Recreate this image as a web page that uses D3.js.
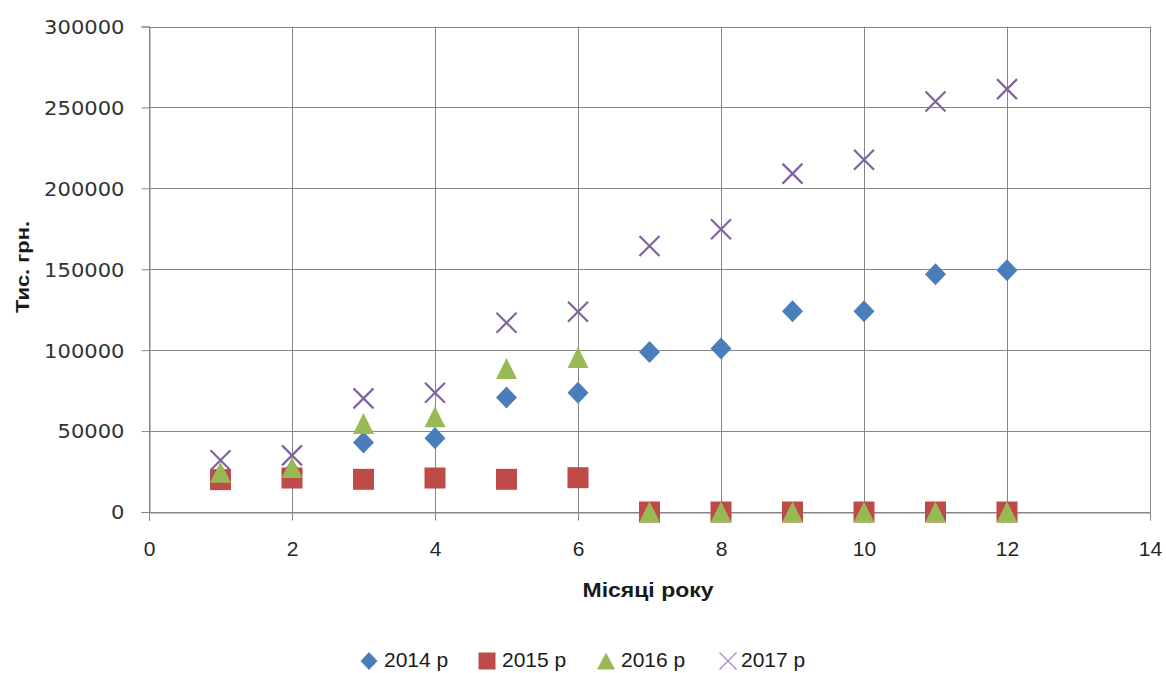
<!DOCTYPE html>
<html><head><meta charset="utf-8">
<script src="https://cdn.jsdelivr.net/npm/d3@7"></script>
<style>html,body{margin:0;padding:0;background:#fff;}svg{display:block;}</style>
</head><body>
<svg id="chart" width="1166" height="673"></svg>
<script>
const months = [1,2,3,4,5,6,7,8,9,10,11,12];
const v2014 = [22000,24500,43000,45500,70800,73700,98800,101000,124100,124100,146900,149400];
const v2015 = [20000,21000,20200,21000,20200,21200,0,0,0,0,0,0];
const v2016 = [24500,27500,54700,58800,88700,95500,0,0,0,0,0,0];
const v2017 = [32000,35000,70200,73700,116900,123700,164400,174700,209100,217700,253700,261300];
const seriesNames = ["2014 р","2015 р","2016 р","2017 р"];
const xTicks = [0,2,4,6,8,10,12,14];
const yTicks = [0,50000,100000,150000,200000,250000,300000];
const xTitle = "Місяці року";
const yTitle = "Тис. грн.";

const svg = d3.select("#chart");
const L=149, R=1150, T=26.5, B=512;
const x = d3.scaleLinear().domain([0,14]).range([L,R]);
const y = d3.scaleLinear().domain([0,300000]).range([B,T]);
const grid = "#868686";

// gridlines
svg.append("g").selectAll("line").data(yTicks).join("line")
  .attr("x1",L).attr("x2",R).attr("y1",d=>Math.round(y(d))+0.5).attr("y2",d=>Math.round(y(d))+0.5)
  .attr("stroke",grid).attr("stroke-width",1);
svg.append("g").selectAll("line").data(xTicks).join("line")
  .attr("y1",T).attr("y2",B).attr("x1",d=>Math.round(x(d))+0.5).attr("x2",d=>Math.round(x(d))+0.5)
  .attr("stroke",grid).attr("stroke-width",1);

// axes
const yAxis = d3.axisLeft(y).tickValues(yTicks).tickSize(8).tickFormat(d3.format("d"));
const gy = svg.append("g").attr("transform",`translate(${Math.round(L)+0.5},0)`).call(yAxis);
gy.select(".domain").attr("stroke",grid);
gy.selectAll(".tick line").attr("stroke",grid);
gy.selectAll(".tick text").attr("x",-25).attr("dy","0.36em")
  .attr("font-family","DejaVu Sans").attr("font-size",19).attr("fill","#333")
  .each(function(d){ const n=String(d).length; d3.select(this).attr("textLength",n*13.4).attr("lengthAdjust","spacingAndGlyphs"); });

const xAxis = d3.axisBottom(x).tickValues(xTicks).tickSize(8).tickFormat(d3.format("d"));
const gx = svg.append("g").attr("transform",`translate(0,${Math.round(B)+0.5})`).call(xAxis);
gx.select(".domain").attr("stroke",grid);
gx.selectAll(".tick line").attr("stroke",grid);
gx.selectAll(".tick text").attr("dy",null).attr("y",43)
  .attr("font-family","Liberation Sans").attr("font-size",21).attr("fill","#262626");

// axis titles
svg.append("text").attr("x",648).attr("y",597).attr("text-anchor","middle")
  .attr("font-family","Liberation Sans").attr("font-weight","bold").attr("font-size",21)
  .attr("textLength",131).attr("lengthAdjust","spacingAndGlyphs").attr("fill","#1a1a1a").text(xTitle);
svg.append("text").attr("transform","translate(29,267) rotate(-90)").attr("text-anchor","middle")
  .attr("font-family","Liberation Sans").attr("font-weight","bold").attr("font-size",18)
  .attr("textLength",92).attr("lengthAdjust","spacingAndGlyphs").attr("fill","#1a1a1a").text(yTitle);

// marker shapes
const diamond = (w,h)=>`M0,${-h/2}L${w/2},0L0,${h/2}L${-w/2},0Z`;
const square = (s)=>`M${-s/2},${-s/2}H${s/2}V${s/2}H${-s/2}Z`;
const triangle = (w,h)=>`M0,${-h/2}L${w/2},${h/2}L${-w/2},${h/2}Z`;
const cross = (s)=>`M${-s/2},${-s/2}L${s/2},${s/2}M${s/2},${-s/2}L${-s/2},${s/2}`;

const colors = ["#4A7EBB","#BE4B48","#98B954","#7F63A1"];
const data = [v2014,v2015,v2016,v2017];
const shapes = [diamond(21,22), square(21), triangle(21,21), cross(20)];

data.forEach((vals,i)=>{
  const g = svg.append("g");
  const pts = months.map((m,j)=>({m, v:vals[j]}));
  const p = g.selectAll("path").data(pts).join("path")
    .attr("transform",d=>`translate(${x(d.m)},${y(d.v)})`)
    .attr("d",shapes[i]);
  if(i===3) p.attr("fill","none").attr("stroke",colors[i]).attr("stroke-width",2.2);
  else p.attr("fill",colors[i]);
});

// legend
const legX = [369,487,606,728];
const legTX = [384,502,621,741];
const legY = 661;
const legShapes = [diamond(17,18), square(17), triangle(18,17), cross(17)];
seriesNames.forEach((name,i)=>{
  const p = svg.append("path").attr("transform",`translate(${legX[i]},${legY})`).attr("d",legShapes[i]);
  if(i===3) p.attr("fill","none").attr("stroke","#A48FC0").attr("stroke-width",1.3);
  else p.attr("fill",colors[i]);
  svg.append("text").attr("x",legTX[i]).attr("y",legY+6).attr("font-family","Liberation Sans")
    .attr("font-size",21).attr("fill","#1a1a1a").text(name);
});
</script>
</body></html>
